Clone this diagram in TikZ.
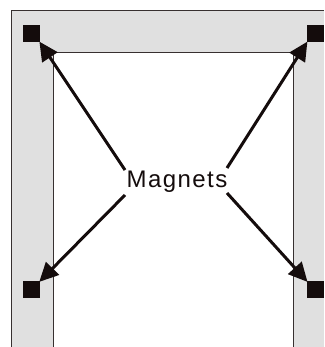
\documentclass[tikz,border=0pt]{standalone}
\usepackage{fontspec}
\setmainfont{Liberation Sans}
\usetikzlibrary{arrows.meta}
\definecolor{panel}{RGB}{224,224,224}
\definecolor{ink}{RGB}{20,12,12}
\tikzset{
  frame/.style={draw=ink!85, line width=1pt},
  magnet/.style={fill=ink, draw=none, minimum size=17.3pt, inner sep=0pt, outer sep=0pt},
  pointer/.style={draw=ink, line width=3pt, -{Triangle[length=19pt,width=18pt]}, shorten >=-1pt},
  lbl/.style={font=\fontsize{24}{27}\selectfont\addfontfeatures{LetterSpace=6}, text=ink, inner sep=0pt}
}
\begin{document}
\begin{tikzpicture}[x=1pt,y=-1pt]
\useasboundingbox (0,0) rectangle (324,347);
% outer gray panel
\fill[panel] (11,11) rectangle (324,347);
\draw[frame] (11,347) -- (11,11) -- (324,11);
% inner white region
\fill[white] (53,53) rectangle (293,347);
\draw[frame] (53,347) -- (53,53) -- (293,53) -- (293,347);
% magnets
\node[magnet] (tl) at (31.3,33.8) {};
\node[magnet] (tr) at (315.5,33.8) {};
\node[magnet] (bl) at (31.3,289.8) {};
\node[magnet] (br) at (315.5,289.8) {};
% label
\node[lbl] (m) at (177,182) {Magnets};
\coordinate (s1) at (125,170);
\coordinate (s2) at (227,168);
\coordinate (s3) at (125,195);
\coordinate (s4) at (227,193);
\draw[pointer] (s1) -- (tl.south east);
\draw[pointer] (s2) -- (tr.south west);
\draw[pointer] (s3) -- (bl.north east);
\draw[pointer] (s4) -- (br.north west);
\end{tikzpicture}
\end{document}
